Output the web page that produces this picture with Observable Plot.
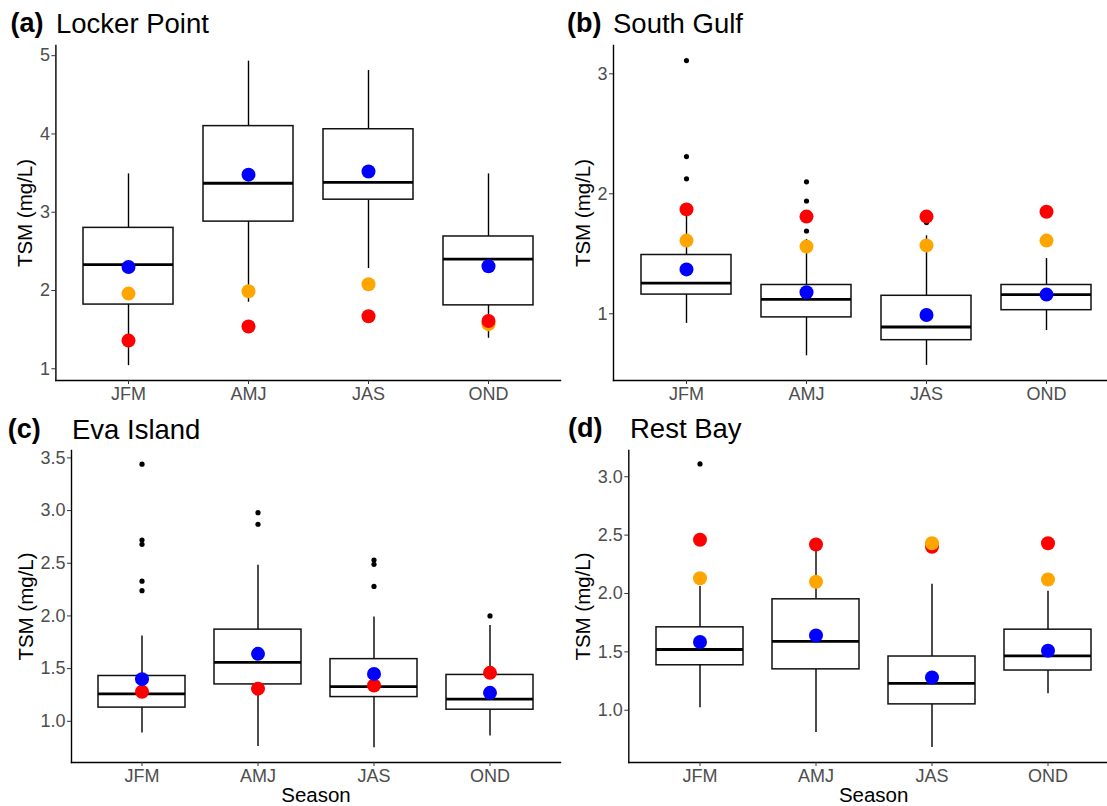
<!DOCTYPE html>
<html><head><meta charset="utf-8">
<script src="https://cdn.jsdelivr.net/npm/d3@7"></script>
<script src="https://cdn.jsdelivr.net/npm/@observablehq/plot@0.6"></script>
<style>
body{margin:0;background:#fff;}
#fig{position:relative;width:1107px;height:806px;overflow:hidden;background:#fff;font-family:"Liberation Sans",Arial,sans-serif;}
.panel{position:absolute;}
.panel svg{overflow:visible;max-width:none !important;}
.title{position:absolute;font-size:27.5px;line-height:27px;color:#000;white-space:nowrap;}
.title.lab{font-weight:bold;font-size:27px;}
</style></head><body><div id="fig"></div><script>
// ---- data ----
const seasons = ["JFM", "AMJ", "JAS", "OND"];
const siteNames = ["Locker Point", "South Gulf", "Eva Island", "Rest Bay"];
const panelLabels = ["(a)", "(b)", "(c)", "(d)"];
const yLabel = "TSM (mg/L)";
const xLabel = "Season";
const yTicks = [[1, 2, 3, 4, 5], [1, 2, 3], [1.0, 1.5, 2.0, 2.5, 3.0, 3.5], [1.0, 1.5, 2.0, 2.5, 3.0]];
const yTickFormats = ["d", "d", ".1f", ".1f"];
const yDomains = [[0.85, 5.13], [0.444, 3.236], [0.609, 3.57], [0.552, 3.225]];

// box statistics per panel (a..d), per season JFM, AMJ, JAS, OND
const whiskerLow = [[1.04, 1.85, 2.28, 1.39], [0.92, 0.65, 0.57, 0.86], [0.89, 0.76, 0.75, 0.86], [1.02, 0.81, 0.68, 1.14]];
const q1 = [[1.82, 2.88, 3.16, 1.81], [1.16, 0.97, 0.78, 1.03], [1.13, 1.35, 1.23, 1.11], [1.385, 1.35, 1.05, 1.34]];
const median = [[2.33, 3.37, 3.38, 2.40], [1.255, 1.12, 0.89, 1.16], [1.26, 1.56, 1.33, 1.21], [1.52, 1.59, 1.23, 1.465]];
const q3 = [[2.80, 4.10, 4.06, 2.69], [1.49, 1.24, 1.15, 1.24], [1.43, 1.87, 1.59, 1.44], [1.71, 1.95, 1.46, 1.69]];
const whiskerHigh = [[3.49, 4.93, 4.81, 3.49], [1.85, 1.62, 1.65, 1.46], [1.81, 2.48, 1.99, 1.91], [2.06, 2.40, 2.08, 2.02]];
const outliers = [
  [[], [], [], []],
  [[3.11, 2.31, 2.125], [2.10, 1.94, 1.69], [1.76], []],
  [[3.44, 2.72, 2.68, 2.33, 2.24], [2.98, 2.87], [2.53, 2.49, 2.28], [2.00]],
  [[3.11], [], [], []]
];
// highlighted values
const blueValues = [[2.30, 3.48, 3.52, 2.31], [1.37, 1.18, 0.99, 1.16], [1.40, 1.64, 1.45, 1.27], [1.585, 1.64, 1.28, 1.51]];
const orangeValues = [[1.96, 1.99, 2.08, 1.57], [1.61, 1.56, 1.57, 1.61], null, [2.13, 2.10, 2.43, 2.12]];
const redValues = [[1.36, 1.54, 1.67, 1.61], [1.87, 1.81, 1.81, 1.85], [1.28, 1.31, 1.34, 1.46], [2.46, 2.42, 2.40, 2.43]];
const dotColors = {blue: "#0000ff", orange: "#ffa500", red: "#ff0000"};
const dotOrder = [["orange", "red", "blue"], ["red", "orange", "blue"], ["red", "blue"], ["red", "orange", "blue"]];

// ---- layout ----
const layout = [
  {left: 0,   top: 0,   width: 565, height: 410, ml: 55.4, mr: 5, mt: 45, mb: 30, ydx: -30, bottom: false, labX: 10.5, nameX: 56,  titleTop: 10},
  {left: 560, top: 0,   width: 565, height: 410, ml: 53,   mr: 7, mt: 45, mb: 30, ydx: -30, bottom: false, labX: 567,  nameX: 613, titleTop: 10},
  {left: 0,   top: 400, width: 565, height: 406, ml: 71,   mr: 5, mt: 50, mb: 44, ydx: -45, bottom: true,  labX: 7.7,  nameX: 72,  titleTop: 416},
  {left: 560, top: 400, width: 565, height: 406, ml: 68.3, mr: 7, mt: 50, mb: 44, ydx: -45, bottom: true,  labX: 568,  nameX: 630, titleTop: 415}
];

const fig = document.getElementById("fig");
const valuesByName = {blue: blueValues, orange: orangeValues, red: redValues};

layout.forEach((L, i) => {
  const rows = seasons.map((s, j) => ({season: s, lo: whiskerLow[i][j], q1: q1[i][j], med: median[i][j], q3: q3[i][j], hi: whiskerHigh[i][j]}));
  const outRows = seasons.flatMap((s, j) => outliers[i][j].map(v => ({season: s, v})));
  const dotMarks = dotOrder[i].map(name => {
    const vals = valuesByName[name][i];
    return Plot.dot(seasons.map((s, j) => ({season: s, v: vals[j]})), {x: "season", y: "v", r: 7, fill: dotColors[name], stroke: "none"});
  });
  const marks = [
    Plot.ruleX(rows, {x: "season", y1: "lo", y2: "q1", stroke: "#000", strokeWidth: 1.4}),
    Plot.ruleX(rows, {x: "season", y1: "q3", y2: "hi", stroke: "#000", strokeWidth: 1.4}),
    Plot.barY(rows, {x: "season", y1: "q1", y2: "q3", fill: "#fff", stroke: "#111", strokeWidth: 1.5}),
    Plot.tickY(rows, {x: "season", y: "med", stroke: "#000", strokeWidth: 2.8}),
    Plot.dot(outRows, {x: "season", y: "v", r: 2.6, fill: "#000", stroke: "none"}),
    ...dotMarks,
    Plot.frame({anchor: "left", stroke: "#000", strokeWidth: 1.4}),
    Plot.frame({anchor: "bottom", stroke: "#000", strokeWidth: 1.4}),
    Plot.axisY({ticks: yTicks[i], tickFormat: d3.format(yTickFormats[i]), tickSize: 4, tickPadding: 2, fontSize: 18, stroke: "#333", fill: "#4d4d4d", label: null}),
    Plot.axisX({tickSize: 4, tickPadding: 3, fontSize: 18, stroke: "#333", fill: "#4d4d4d", label: null}),
    Plot.text([yLabel], {frameAnchor: "left", dx: L.ydx, rotate: -90, textAnchor: "middle", lineAnchor: "middle", fontSize: 20.5, fill: "#000"})
  ];
  if (L.bottom) marks.push(Plot.text([xLabel], {frameAnchor: "bottom", dy: 33, textAnchor: "middle", lineAnchor: "middle", fontSize: 20.5, fill: "#000"}));
  const p = Plot.plot({
    width: L.width, height: L.height,
    marginLeft: L.ml, marginRight: L.mr, marginTop: L.mt, marginBottom: L.mb,
    style: {fontFamily: "'Liberation Sans', Arial, sans-serif", background: "transparent", overflow: "visible", maxWidth: "none"},
    x: {type: "band", domain: seasons, paddingInner: 0.25, paddingOuter: 0.225, axis: null},
    y: {domain: yDomains[i], axis: null},
    marks
  });
  const wrap = document.createElement("div");
  wrap.className = "panel";
  wrap.style.left = L.left + "px";
  wrap.style.top = L.top + "px";
  wrap.style.width = L.width + "px";
  wrap.style.height = L.height + "px";
  wrap.appendChild(p);
  fig.appendChild(wrap);

  const lab = document.createElement("div");
  lab.className = "title lab";
  lab.textContent = panelLabels[i];
  lab.style.left = L.labX + "px";
  lab.style.top = L.titleTop + "px";
  fig.appendChild(lab);
  const nm = document.createElement("div");
  nm.className = "title";
  nm.textContent = siteNames[i];
  nm.style.left = L.nameX + "px";
  nm.style.top = L.titleTop + "px";
  fig.appendChild(nm);
});
</script></body></html>
